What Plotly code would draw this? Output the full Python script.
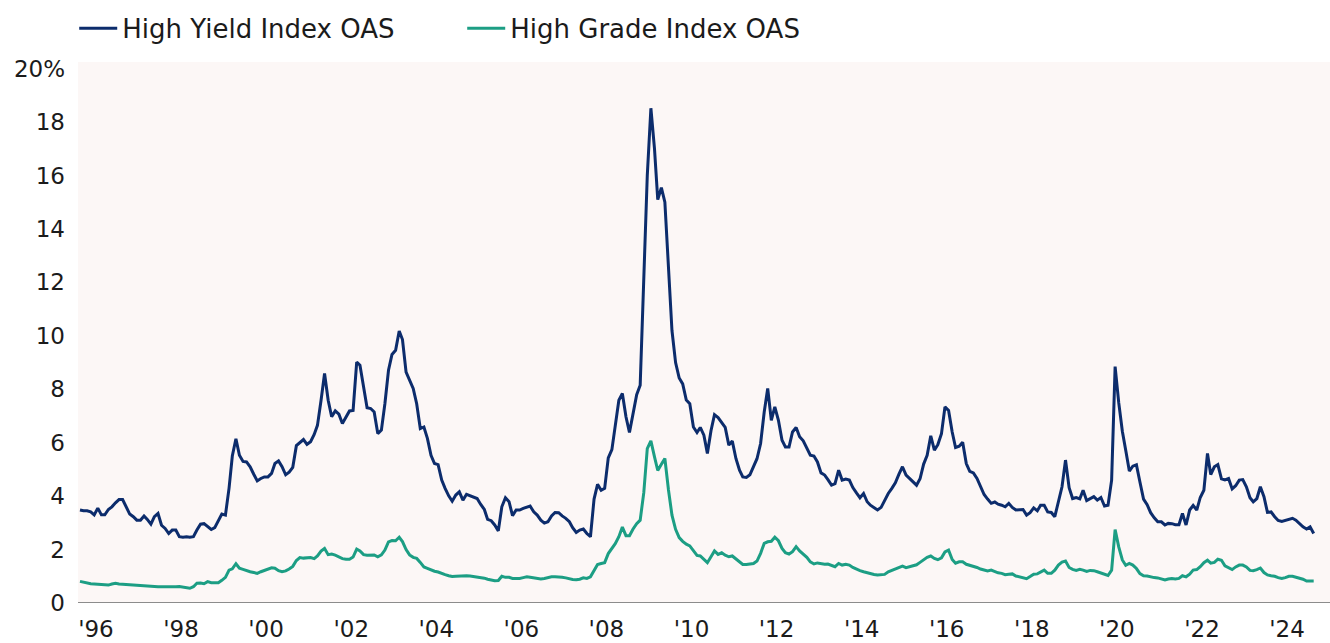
import pandas as pd
import plotly.graph_objects as go

# Monthly option-adjusted spreads (%)
hy_oas = [
    3.48, 3.45, 3.45, 3.41, 3.30, 3.55, 3.30, 3.30, 3.50, 3.60, 3.75, 3.87,
    3.87, 3.60, 3.33, 3.23, 3.10, 3.10, 3.26, 3.13, 2.95, 3.23, 3.35, 2.91,
    2.79, 2.60, 2.73, 2.73, 2.48, 2.46, 2.48, 2.46, 2.48, 2.73, 2.95, 2.97,
    2.85, 2.75, 2.82, 3.10, 3.33, 3.29, 4.30, 5.50, 6.15, 5.53, 5.30, 5.28,
    5.10, 4.82, 4.57, 4.66, 4.72, 4.72, 4.85, 5.22, 5.32, 5.10, 4.80, 4.90,
    5.08, 5.89, 5.99, 6.12, 5.94, 6.04, 6.31, 6.65, 7.59, 8.59, 7.59, 6.97,
    7.19, 7.07, 6.72, 6.94, 7.19, 7.21, 9.02, 8.90, 8.03, 7.31, 7.28, 7.15,
    6.34, 6.47, 7.46, 8.71, 9.30, 9.46, 10.18, 9.86, 8.64, 8.34, 8.03, 7.46,
    6.53, 6.59, 6.16, 5.53, 5.22, 5.18, 4.60, 4.29, 4.01, 3.81, 4.04, 4.16,
    3.85, 4.07, 4.01, 3.97, 3.91, 3.69, 3.50, 3.13, 3.08, 2.92, 2.70, 3.60,
    3.94, 3.79, 3.27, 3.48, 3.48, 3.54, 3.60, 3.63, 3.41, 3.29, 3.10, 2.99,
    3.04, 3.26, 3.39, 3.38, 3.26, 3.17, 3.04, 2.82, 2.64, 2.73, 2.77, 2.60,
    2.48, 3.89, 4.44, 4.22, 4.29, 5.43, 5.74, 6.65, 7.59, 7.84, 6.97, 6.38,
    7.03, 7.80, 8.15, 11.80, 16.00, 18.52, 17.00, 15.10, 15.55, 15.00, 12.30, 10.20,
    9.00, 8.42, 8.20, 7.60, 7.46, 6.59, 6.38, 6.57, 6.28, 5.60, 6.45, 7.05,
    6.94, 6.75, 6.57, 5.91, 6.06, 5.41, 4.97, 4.72, 4.70, 4.80, 5.10, 5.40,
    5.97, 7.15, 8.03, 6.84, 7.34, 6.84, 6.09, 5.84, 5.84, 6.40, 6.57, 6.22,
    6.07, 5.81, 5.53, 5.50, 5.28, 4.87, 4.79, 4.62, 4.41, 4.47, 4.97, 4.60,
    4.64, 4.60, 4.32, 4.12, 3.94, 4.10, 3.79, 3.66, 3.58, 3.48, 3.58, 3.85,
    4.10, 4.29, 4.50, 4.82, 5.10, 4.79, 4.66, 4.56, 4.41, 4.65, 5.20, 5.53,
    6.26, 5.72, 5.93, 6.34, 7.34, 7.21, 6.40, 5.82, 5.87, 6.02, 5.22, 4.93,
    4.87, 4.66, 4.39, 4.06, 3.89, 3.73, 3.78, 3.70, 3.66, 3.60, 3.73, 3.58,
    3.48, 3.49, 3.50, 3.29, 3.38, 3.56, 3.45, 3.66, 3.66, 3.41, 3.39, 3.23,
    3.85, 4.35, 5.35, 4.32, 3.91, 3.95, 3.90, 4.22, 3.83, 3.89, 3.98, 3.85,
    3.95, 3.63, 3.66, 4.60, 8.85, 7.50, 6.43, 5.72, 4.94, 5.12, 5.17, 4.53,
    3.89, 3.68, 3.38, 3.19, 3.04, 3.04, 2.92, 2.98, 2.97, 2.93, 2.93, 3.35,
    2.92, 3.48, 3.65, 3.48, 3.95, 4.22, 5.60, 4.81, 5.10, 5.18, 4.65, 4.61,
    4.66, 4.27, 4.39, 4.60, 4.62, 4.35, 3.94, 3.79, 3.91, 4.35, 3.98, 3.39,
    3.41, 3.23, 3.09, 3.05, 3.09, 3.15, 3.17, 3.10, 2.98, 2.85, 2.77, 2.85,
    2.60,
]

hg_oas = [
    0.81, 0.77, 0.75, 0.72, 0.71, 0.70, 0.69, 0.69, 0.67, 0.71, 0.74, 0.71,
    0.70, 0.70, 0.69, 0.67, 0.65, 0.65, 0.65, 0.64, 0.62, 0.62, 0.61, 0.61,
    0.61, 0.60, 0.59, 0.61, 0.62, 0.59, 0.56, 0.55, 0.61, 0.74, 0.75, 0.72,
    0.80, 0.76, 0.76, 0.76, 0.85, 0.96, 1.23, 1.28, 1.47, 1.30, 1.26, 1.21,
    1.17, 1.14, 1.11, 1.17, 1.21, 1.28, 1.32, 1.30, 1.21, 1.17, 1.20, 1.27,
    1.37, 1.59, 1.70, 1.68, 1.68, 1.70, 1.66, 1.76, 1.94, 2.04, 1.81, 1.83,
    1.79, 1.72, 1.66, 1.64, 1.64, 1.72, 2.02, 1.95, 1.81, 1.79, 1.79, 1.80,
    1.73, 1.80, 1.98, 2.29, 2.34, 2.33, 2.46, 2.30, 2.00, 1.80, 1.71, 1.67,
    1.52, 1.35, 1.30, 1.24, 1.19, 1.16, 1.10, 1.06, 1.02, 0.99, 1.00, 1.01,
    1.01, 1.02, 1.01, 0.99, 0.98, 0.96, 0.93, 0.89, 0.85, 0.83, 0.84, 1.00,
    0.96, 0.96, 0.92, 0.92, 0.92, 0.95, 0.98, 0.96, 0.94, 0.92, 0.90, 0.92,
    0.95, 0.98, 0.98, 0.98, 0.96, 0.94, 0.90, 0.88, 0.87, 0.89, 0.94, 0.92,
    0.98, 1.19, 1.44, 1.48, 1.51, 1.85, 2.02, 2.22, 2.48, 2.84, 2.52, 2.52,
    2.77, 2.97, 3.10, 4.13, 5.78, 6.07, 5.47, 4.96, 5.19, 5.41, 4.23, 3.29,
    2.76, 2.45, 2.31, 2.20, 2.14, 1.95, 1.78, 1.76, 1.65, 1.51, 1.73, 1.95,
    1.82, 1.88, 1.79, 1.73, 1.76, 1.66, 1.54, 1.44, 1.44, 1.46, 1.48, 1.57,
    1.86, 2.23, 2.29, 2.31, 2.46, 2.33, 2.04, 1.88, 1.83, 1.92, 2.11, 1.95,
    1.82, 1.71, 1.54, 1.46, 1.50, 1.47, 1.45, 1.46, 1.42, 1.36, 1.48, 1.42,
    1.45, 1.42, 1.33, 1.26, 1.21, 1.17, 1.13, 1.11, 1.07, 1.05, 1.05, 1.07,
    1.17, 1.23, 1.27, 1.33, 1.38, 1.32, 1.36, 1.38, 1.43, 1.52, 1.61, 1.71,
    1.76, 1.67, 1.62, 1.69, 1.91, 1.98, 1.63, 1.49, 1.54, 1.54, 1.45, 1.42,
    1.37, 1.33, 1.27, 1.23, 1.20, 1.23, 1.17, 1.13, 1.11, 1.06, 1.08, 1.09,
    1.01, 0.97, 0.95, 0.91, 0.99, 1.08, 1.09, 1.15, 1.23, 1.11, 1.11, 1.23,
    1.42, 1.53, 1.57, 1.33, 1.26, 1.22, 1.26, 1.23, 1.18, 1.22, 1.21, 1.17,
    1.12, 1.05, 1.03, 1.23, 2.75, 2.10, 1.61, 1.41, 1.48, 1.42, 1.29, 1.10,
    1.02, 1.01, 0.97, 0.95, 0.94, 0.91, 0.86, 0.90, 0.92, 0.90, 0.92, 1.02,
    0.98, 1.08, 1.23, 1.25, 1.36, 1.51, 1.60, 1.49, 1.52, 1.64, 1.60, 1.39,
    1.32, 1.25, 1.35, 1.42, 1.42, 1.35, 1.22, 1.21, 1.25, 1.31, 1.14, 1.05,
    1.02, 1.00, 0.95, 0.92, 0.95, 1.00, 1.00, 0.97, 0.95, 0.89, 0.82, 0.82,
    0.82,
]

series_names = ["High Yield Index OAS", "High Grade Index OAS"]
first_month = "1995-08-01"
dates = pd.date_range(first_month, periods=len(hy_oas), freq="MS")

tick_years = list(range(1996, 2025, 2))
tick_dates = [f"{y - 1}-12-16" for y in tick_years]
tick_labels = [f"'{y % 100:02d}" for y in tick_years]

y_ticks = list(range(0, 21, 2))
y_labels = [str(v) for v in y_ticks[:-1]] + ["20%"]

NAVY = "#0c2c6c"
TEAL = "#1c9e84"
BG = "#fcf7f6"
FONT = "'DejaVu Sans', sans-serif"
TXT = "#1b1b1b"

fig = go.Figure()
fig.add_trace(go.Scatter(x=dates, y=hy_oas, name=series_names[0], mode="lines",
                         line=dict(color=NAVY, width=3)))
fig.add_trace(go.Scatter(x=dates, y=hg_oas, name=series_names[1], mode="lines",
                         line=dict(color=TEAL, width=3)))

fig.update_layout(
    width=1330, height=643,
    margin=dict(l=78, r=0, t=62, b=40),
    paper_bgcolor="white",
    plot_bgcolor=BG,
    font=dict(family=FONT, size=23, color=TXT),
    showlegend=True,
    legend=dict(orientation="h", xref="container", yref="container",
                x=0.0558, y=0.9925, xanchor="left", yanchor="top",
                font=dict(family=FONT, size=26, color=TXT),
                itemwidth=38, entrywidth=335, bgcolor="rgba(0,0,0,0)"),
    xaxis=dict(type="date", range=["1995-07-15", "2024-12-19"],
               tickmode="array", tickvals=tick_dates, ticktext=tick_labels,
               showgrid=False, zeroline=False, showline=False, ticks="",
               ticklabelstandoff=10),
    yaxis=dict(range=[0, 20.25], tickmode="array", tickvals=y_ticks, ticktext=y_labels,
               showgrid=False, zeroline=False, showline=False, ticks="",
               ticklabelstandoff=12),
)

fig.add_shape(type="line", xref="paper", yref="y", x0=0, x1=1, y0=0, y1=0,
              line=dict(color="#8c8c8c", width=2))

fig.write_html("out.html", config={"displayModeBar": False},
               post_script="document.body.style.margin='0';")
